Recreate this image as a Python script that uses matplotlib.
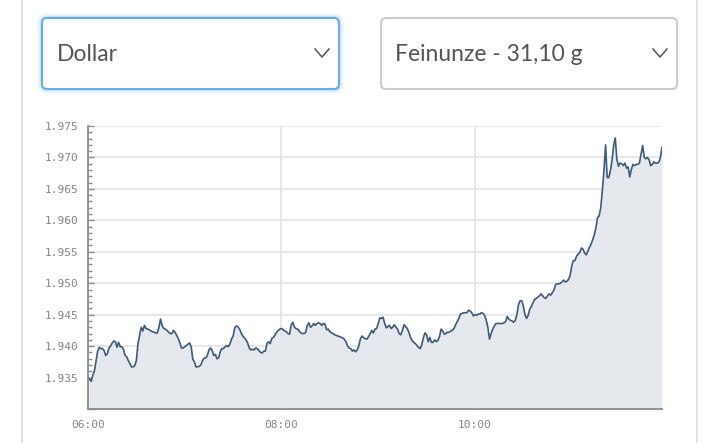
import numpy as np
import matplotlib
matplotlib.use("Agg")
import matplotlib.pyplot as plt
from matplotlib.patches import FancyBboxPatch
from matplotlib.ticker import MultipleLocator, FuncFormatter

# gold price in USD per fine ounce, one value per minute from 06:00
prices = [
    1935.1, 1934.7, 1934.4, 1935.4, 1936.1, 1937.7, 1939.2, 1939.8, 1939.6, 1939.6,
    1939.3, 1938.5, 1938.8, 1939.7, 1940.0, 1940.5, 1940.8, 1940.7, 1939.8, 1940.6,
    1939.9, 1939.9, 1939.5, 1938.5, 1938.3, 1937.7, 1937.2, 1936.7, 1936.7, 1936.9,
    1937.7, 1940.4, 1941.7, 1943.0, 1942.4, 1943.3, 1942.8, 1942.7, 1942.6, 1942.4,
    1942.3, 1942.2, 1942.1, 1942.1, 1943.0, 1944.3, 1943.2, 1942.8, 1942.7, 1942.5,
    1942.2, 1942.0, 1942.0, 1942.5, 1942.2, 1941.7, 1941.2, 1940.5, 1939.7, 1939.7,
    1939.9, 1940.1, 1940.3, 1940.5, 1939.9, 1937.9, 1937.5, 1936.7, 1936.7, 1936.8,
    1937.0, 1937.7, 1938.1, 1938.1, 1938.5, 1939.4, 1939.7, 1939.3, 1938.5, 1938.7,
    1938.0, 1938.1, 1939.1, 1939.6, 1939.6, 1939.9, 1940.1, 1939.9, 1940.3, 1941.1,
    1941.6, 1942.9, 1943.2, 1943.1, 1942.7, 1942.1, 1941.6, 1941.3, 1941.0, 1940.5,
    1939.7, 1939.4, 1939.5, 1939.4, 1939.7, 1939.6, 1939.3, 1939.0, 1938.9, 1939.2,
    1939.2, 1940.4, 1940.7, 1940.4, 1941.2, 1941.4, 1941.8, 1942.2, 1942.5, 1942.7,
    1942.8, 1942.6, 1942.4, 1942.3, 1942.0, 1941.9, 1943.3, 1943.8, 1943.0, 1942.8,
    1942.7, 1942.4, 1942.1, 1942.0, 1942.0, 1942.2, 1943.3, 1943.7, 1943.0, 1943.2,
    1943.6, 1943.3, 1943.6, 1943.7, 1943.6, 1943.3, 1943.6, 1943.5, 1942.6, 1942.7,
    1942.3, 1942.1, 1942.0, 1941.8, 1941.7, 1941.6, 1941.5, 1941.4, 1941.3, 1941.1,
    1940.7, 1940.0, 1939.7, 1939.6, 1939.2, 1939.4, 1939.1, 1939.4, 1940.1, 1941.2,
    1941.6, 1941.3, 1941.2, 1941.1, 1941.5, 1942.0, 1942.5, 1942.1, 1942.7, 1942.8,
    1943.6, 1944.5, 1944.4, 1944.6, 1943.6, 1942.9, 1943.1, 1943.3, 1942.8, 1943.0,
    1943.4, 1943.0, 1942.7, 1942.0, 1941.8, 1942.5, 1943.4, 1943.1, 1942.8, 1942.2,
    1941.4, 1940.9, 1940.6, 1940.4, 1940.1, 1939.8, 1939.6, 1940.2, 1941.3, 1942.1,
    1941.8, 1940.7, 1941.4, 1940.6, 1940.6, 1941.0, 1940.7, 1940.9, 1941.5, 1942.7,
    1942.4, 1941.9, 1942.0, 1942.2, 1942.2, 1942.4, 1942.5, 1942.8, 1943.4, 1943.9,
    1944.4, 1945.1, 1945.2, 1945.3, 1945.3, 1945.3, 1945.7, 1945.6, 1945.3, 1944.8,
    1945.0, 1944.9, 1945.1, 1945.1, 1945.3, 1945.2, 1944.9, 1944.1, 1943.0, 1941.1,
    1942.0, 1942.7, 1943.2, 1943.6, 1943.6, 1943.6, 1943.6, 1943.6, 1943.7, 1943.9,
    1944.7, 1944.3, 1944.1, 1944.0, 1943.8, 1944.1, 1945.0, 1946.6, 1947.2, 1947.2,
    1946.4, 1945.0, 1944.4, 1944.9, 1945.9, 1946.3, 1946.9, 1947.4, 1947.6, 1947.8,
    1948.0, 1948.3, 1948.0, 1947.7, 1947.6, 1948.0, 1948.3, 1948.1, 1948.5, 1948.9,
    1949.8, 1949.9, 1949.9, 1950.0, 1950.2, 1950.5, 1950.2, 1950.3, 1950.6, 1951.2,
    1952.7, 1953.6, 1953.6, 1954.3, 1954.6, 1954.9, 1955.6, 1955.4, 1954.8, 1954.5,
    1955.1, 1955.7, 1956.2, 1956.9, 1957.7, 1958.8, 1960.4, 1960.7, 1962.0, 1964.7,
    1967.9, 1972.0, 1966.8, 1966.8, 1967.9, 1969.5, 1971.9, 1973.1, 1969.7, 1968.6,
    1969.1, 1969.0, 1968.7, 1969.1, 1968.3, 1968.5, 1966.9, 1968.1, 1968.9, 1968.7,
    1968.9, 1968.9, 1969.1, 1970.5, 1971.9, 1970.0, 1969.8, 1970.0, 1969.6, 1968.7,
    1968.9, 1969.3, 1969.1, 1969.1, 1969.2, 1970.0, 1971.6,
]
minutes = np.arange(len(prices))  # minutes after 06:00

tick_minutes = [0, 120, 240]
tick_labels = ["06:00", "08:00", "10:00"]
currency_label = "Dollar"
unit_label = "Feinunze - 31,10 g"

W, H = 720, 443
fig = plt.figure(figsize=(W / 100, H / 100), dpi=100)

# page background with the two select boxes
bg = fig.add_axes([0, 0, 1, 1], zorder=-1)
bg.set_xlim(0, W)
bg.set_ylim(H, 0)
bg.axis("off")
for x in (22, 697):
    bg.plot([x, x], [0, H], color="#e2e2e2", lw=1.5)

for lw, alpha in ((7, 0.08), (4.5, 0.12), (2.5, 0.2)):
    bg.add_patch(FancyBboxPatch((42, 18), 297, 71, boxstyle="round,pad=0,rounding_size=5",
                                fc="none", ec="#6aaee8", lw=lw, alpha=alpha))
bg.add_patch(FancyBboxPatch((42, 18), 297, 71, boxstyle="round,pad=0,rounding_size=5",
                            fc="white", ec="#6aaee8", lw=1.5))
bg.add_patch(FancyBboxPatch((381, 18), 296, 71, boxstyle="round,pad=0,rounding_size=5",
                            fc="white", ec="#cccccc", lw=1.5))
bg.text(57, 54, currency_label, fontsize=16.5, family="Lato", color="#555555", va="center")
bg.text(395, 54, unit_label, fontsize=16.5, family="Lato", color="#555555", va="center")
for cx in (322, 660):
    bg.plot([cx - 7, cx, cx + 7], [49, 57, 49], color="#555555", lw=1.1)

# price chart
ax = fig.add_axes([88 / W, 1 - 409 / H, (662 - 88) / W, (409 - 126) / H])
ax.fill_between(minutes, prices, 1930, color="#e5e8ed", lw=0)
ax.plot(minutes, prices, color="#3e5b78", lw=1.2)

ax.set_xlim(0, minutes[-1])
ax.set_ylim(1930, 1975)
ax.yaxis.set_major_locator(MultipleLocator(5))
ax.yaxis.set_minor_locator(MultipleLocator(1))
ax.yaxis.set_major_formatter(FuncFormatter(lambda v, p: f"{v / 1000:.3f}" if v > 1930 else ""))
ax.set_xticks(tick_minutes)
ax.set_xticklabels(tick_labels)

ax.grid(True, which="major", color="#e6e6e6", lw=1.3)
ax.set_axisbelow(True)
for s in ("top", "right"):
    ax.spines[s].set_visible(False)
for s in ("left", "bottom"):
    ax.spines[s].set_color("#8c8c8c")
    ax.spines[s].set_linewidth(1.3)

ax.tick_params(axis="y", which="major", direction="in", length=4, width=1, color="#8c8c8c",
               labelsize=8, labelcolor="#858585", pad=7)
ax.tick_params(axis="y", which="minor", direction="in", length=3, width=1, color="#8c8c8c")
ax.tick_params(axis="x", direction="in", length=6, width=1, color="#8c8c8c",
               labelsize=8, labelcolor="#858585", pad=8)
for lab in ax.get_xticklabels() + ax.get_yticklabels():
    lab.set_family("DejaVu Sans Mono")

fig.savefig("out.png", dpi=100)
